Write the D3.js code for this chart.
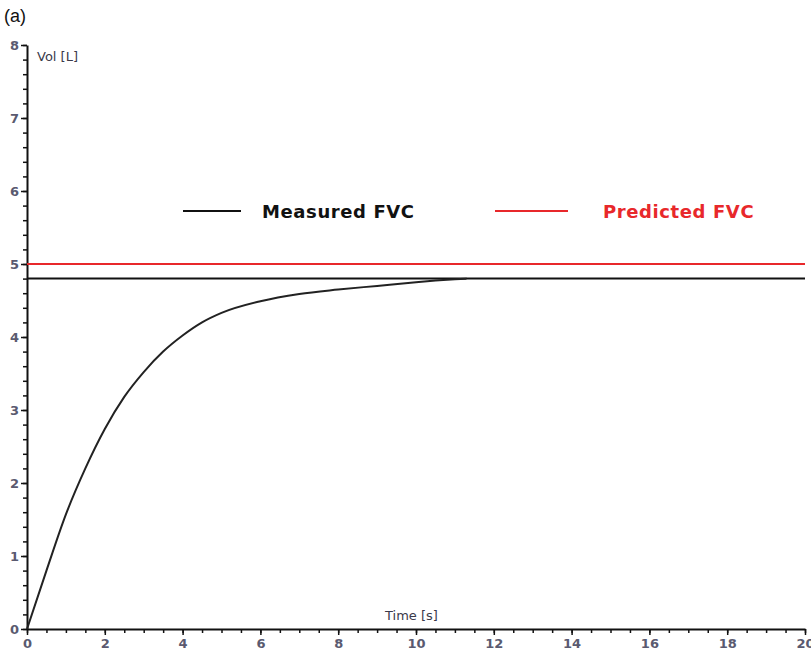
<!DOCTYPE html>
<html>
<head>
<meta charset="utf-8">
<script src="https://cdn.jsdelivr.net/npm/d3@7"></script>
<style>
  body { margin: 0; background: #fff; }
  .tick text { font-family: "DejaVu Sans", Verdana, sans-serif; font-size: 13px; font-weight: bold; fill: #5a5a70; }
  .axisText { font-family: "DejaVu Sans", Verdana, sans-serif; font-size: 13px; fill: #3a3a4a; }
</style>
</head>
<body>
<div class="chart"></div>
<script>
var svgWidth = 811;
var svgHeight = 659;

var margin = { top: 45, right: 6, bottom: 30, left: 27 };
var width = svgWidth - margin.left - margin.right;
var height = svgHeight - margin.top - margin.bottom;

// Measured volume-time curve
var timeVals = [0, 0.5, 1, 1.5, 2, 2.5, 3, 3.5, 4, 4.5, 5, 6, 7, 8, 9, 10, 11, 11.3];
var volVals  = [0, 0.8, 1.57, 2.2, 2.74, 3.18, 3.52, 3.8, 4.02, 4.2, 4.33, 4.49, 4.59, 4.65, 4.7, 4.75, 4.79, 4.8];

var measuredFVC = 4.8;
var predictedFVC = 5.0;

var legendLabels = ["Measured FVC", "Predicted FVC"];
var legendColors = ["#111", "#e8282b"];

var xTicks = [0, 2, 4, 6, 8, 10, 12, 14, 16, 18, 20];
var yTicks = [0, 1, 2, 3, 4, 5, 6, 7, 8];

var svg = d3.select(".chart")
  .append("svg")
  .attr("width", svgWidth)
  .attr("height", svgHeight);

var chartGroup = svg.append("g")
  .attr("transform", `translate(${margin.left}, ${margin.top})`);

var xLinearScale = d3.scaleLinear().domain([0, 20]).range([0, width]);
var yLinearScale = d3.scaleLinear().domain([0, 8]).range([height, 0]);

// minor ticks
var xMinor = d3.range(0, 20.01, 0.5);
var yMinor = d3.range(0, 8.01, 0.2);

chartGroup.append("g")
  .attr("transform", `translate(0, ${height})`)
  .call(d3.axisBottom(xLinearScale).tickValues(xMinor).tickSize(4).tickFormat(""))
  .call(g => g.select(".domain").remove())
  .selectAll("line").attr("stroke", "#111").attr("stroke-width", 1.5);

chartGroup.append("g")
  .call(d3.axisLeft(yLinearScale).tickValues(yMinor).tickSize(4).tickFormat(""))
  .call(g => g.select(".domain").remove())
  .selectAll("line").attr("stroke", "#111").attr("stroke-width", 1.5);

// major axes
var bottomAxis = chartGroup.append("g")
  .attr("transform", `translate(0, ${height})`)
  .call(d3.axisBottom(xLinearScale).tickValues(xTicks).tickSize(6).tickSizeOuter(0).tickPadding(4));
bottomAxis.select(".domain").attr("stroke", "#111").attr("stroke-width", 2);
bottomAxis.selectAll("line").attr("stroke", "#111").attr("stroke-width", 1.5);

var leftAxis = chartGroup.append("g")
  .call(d3.axisLeft(yLinearScale).tickValues(yTicks).tickSize(6).tickSizeOuter(0).tickPadding(2));
leftAxis.select(".domain").attr("stroke", "#111").attr("stroke-width", 2);
leftAxis.selectAll("line").attr("stroke", "#111").attr("stroke-width", 1.5);

// predicted and measured FVC lines
chartGroup.append("line")
  .attr("x1", xLinearScale(0)).attr("x2", xLinearScale(20))
  .attr("y1", yLinearScale(predictedFVC)).attr("y2", yLinearScale(predictedFVC))
  .attr("stroke", legendColors[1]).attr("stroke-width", 2);

chartGroup.append("line")
  .attr("x1", xLinearScale(0)).attr("x2", xLinearScale(20))
  .attr("y1", yLinearScale(measuredFVC)).attr("y2", yLinearScale(measuredFVC))
  .attr("stroke", legendColors[0]).attr("stroke-width", 2);

// curve
var curveData = timeVals.map((t, i) => ({ t: t, v: volVals[i] }));
chartGroup.append("path")
  .datum(curveData)
  .attr("fill", "none")
  .attr("stroke", "#222")
  .attr("stroke-width", 2)
  .attr("d", d3.line().x(d => xLinearScale(d.t)).y(d => yLinearScale(d.v)).curve(d3.curveMonotoneX));

// legend
var legendX = [183, 495];
var legendTextX = [262, 603];
legendLabels.forEach(function (lab, i) {
  svg.append("line")
    .attr("x1", legendX[i]).attr("x2", legendX[i] + 58 + i * 15)
    .attr("y1", 211).attr("y2", 211)
    .attr("stroke", legendColors[i]).attr("stroke-width", 2);
  svg.append("text")
    .attr("x", legendTextX[i]).attr("y", 218)
    .attr("font-family", "'DejaVu Sans', Verdana, sans-serif")
    .attr("font-size", "18px")
    .attr("font-weight", "bold")
    .attr("letter-spacing", "0.6px")
    .attr("fill", legendColors[i])
    .text(lab);
});

// axis labels
svg.append("text")
  .attr("class", "axisText")
  .attr("x", 37).attr("y", 61)
  .text("Vol [L]");

svg.append("text")
  .attr("class", "axisText")
  .attr("x", 385).attr("y", 620)
  .text("Time [s]");

svg.append("text")
  .attr("x", 4).attr("y", 22)
  .attr("font-family", "'Liberation Sans', Arial, sans-serif")
  .attr("font-size", "18px")
  .attr("fill", "#111")
  .text("(a)");
</script>
</body>
</html>
